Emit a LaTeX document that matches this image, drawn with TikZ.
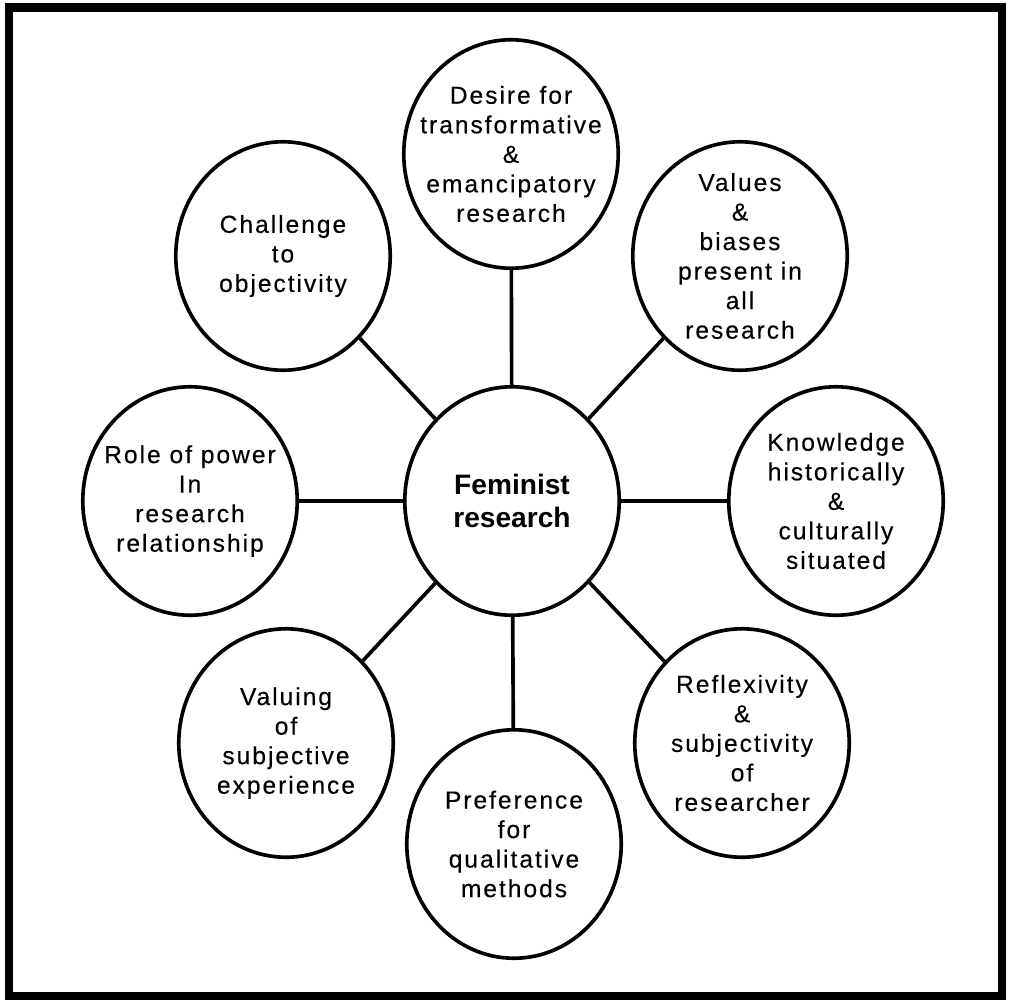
\documentclass[tikz,border=0pt]{standalone}
\usepackage{fontspec}
\setmainfont{Liberation Sans}
\newfontfamily\bubblefont{Liberation Sans}[LetterSpace=8, FakeBold=0.3]
\usetikzlibrary{shapes.geometric}

\begin{document}
\begin{tikzpicture}[x=0.025cm, y=-0.025cm,
    bubble/.style={draw, ellipse, line width=2.6pt, minimum width=5.36cm, minimum height=5.71cm, inner sep=0pt},
    txt/.style={align=center, inner sep=0pt, font=\bubblefont\fontsize{17.5pt}{21pt}\selectfont},
    hubtxt/.style={align=center, inner sep=0pt, font=\fontsize{20pt}{23pt}\selectfont\bfseries},
    link/.style={line width=2.6pt}]
    \useasboundingbox (0,0) rectangle (1010,1000);
    \draw[line width=5.7pt] (9,7.5) rectangle (1002,996);
    % the hub and its eight bubbles
    \node[bubble] (hub) at (512,501) {};
    \node[bubble] (desire) at (511,154) {};
    \node[bubble] (values) at (740,256) {};
    \node[bubble] (knowledge) at (836,501) {};
    \node[bubble] (reflex) at (742,743) {};
    \node[bubble] (preference) at (514,844) {};
    \node[bubble] (valuing) at (286,743) {};
    \node[bubble] (role) at (190,501) {};
    \node[bubble] (challenge) at (283,256) {};
    % texts
    \node[hubtxt] (hub-t) at (hub) {Feminist\\research};
    \node[txt] (desire-t) at (desire) {Desire for\\transformative\\\&\\emancipatory\\research};
    \node[txt] (values-t) at (values) {Values\\\&\\biases\\present in\\all\\research};
    \node[txt] (knowledge-t) at (knowledge) {Knowledge\\historically\\\&\\culturally\\situated};
    \node[txt] (reflex-t) at (reflex) {Reflexivity\\\&\\subjectivity\\of\\researcher};
    \node[txt] (preference-t) at (preference) {Preference\\for\\qualitative\\methods};
    \node[txt] (valuing-t) at (valuing) {Valuing\\of\\subjective\\experience};
    \node[txt] (role-t) at (role) {Role of power\\In\\research\\relationship};
    \node[txt] (challenge-t) at (challenge) {Challenge\\to\\objectivity};
    % spokes
    \foreach \b in {desire,values,knowledge,reflex,preference,valuing,role,challenge}
      \draw[link] (hub) -- (\b);
\end{tikzpicture}
\end{document}
